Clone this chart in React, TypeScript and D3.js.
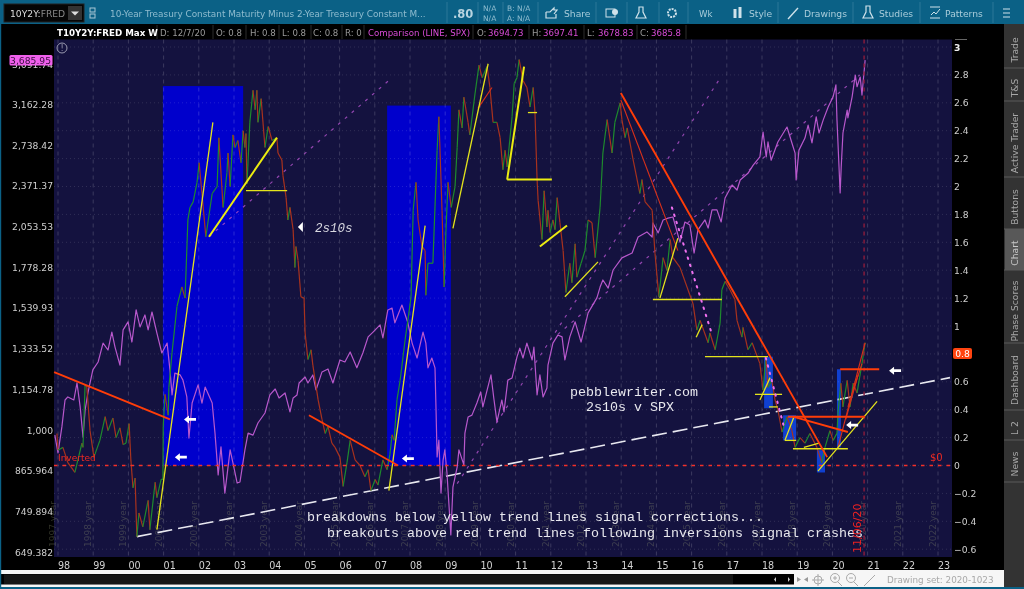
import React from "react";
import * as d3 from "d3";

const spxYears = [1997.91,1998,1998.11,1998.2,1998.28,1998.45,1998.54,1998.63,1998.71,1998.77,1998.85,1998.99,1999.14,1999.28,1999.42,1999.53,1999.62,1999.76,1999.85,1999.99,2000.1,2000.22,2000.33,2000.47,2000.56,2000.67,2000.81,2000.95,2001.1,2001.18,2001.24,2001.32,2001.47,2001.55,2001.66,2001.72,2001.81,2001.98,2002.09,2002.18,2002.38,2002.46,2002.55,2002.63,2002.74,2002.89,2002.97,2003.09,2003.17,2003.31,2003.4,2003.54,2003.68,2003.88,2004.02,2004.17,2004.28,2004.45,2004.59,2004.68,2004.79,2004.85,2005.02,2005.1,2005.24,2005.33,2005.5,2005.67,2005.81,2006.01,2006.15,2006.3,2006.49,2006.66,2006.81,2006.95,2007.15,2007.23,2007.37,2007.49,2007.57,2007.77,2007.94,2008.06,2008.2,2008.37,2008.45,2008.51,2008.62,2008.71,2008.74,2008.77,2008.82,2008.88,2008.94,2008.99,2009.05,2009.16,2009.22,2009.34,2009.39,2009.53,2009.56,2009.65,2009.76,2009.9,2010.01,2010.07,2010.3,2010.38,2010.47,2010.61,2010.67,2010.78,2010.9,2011.04,2011.12,2011.21,2011.32,2011.47,2011.52,2011.61,2011.69,2011.78,2011.89,2011.92,2012.06,2012.2,2012.32,2012.4,2012.54,2012.69,2012.86,2013.06,2013.31,2013.4,2013.48,2013.63,2013.77,2014.02,2014.31,2014.48,2014.73,2014.88,2014.9,2015.05,2015.19,2015.33,2015.47,2015.67,2015.81,2015.95,2016.07,2016.18,2016.38,2016.47,2016.58,2016.72,2016.84,2016.95,2017.15,2017.29,2017.38,2017.6,2017.75,2017.94,2018.03,2018.12,2018.17,2018.26,2018.45,2018.71,2018.85,2018.94,2018.97,2019.05,2019.22,2019.31,2019.42,2019.54,2019.62,2019.74,2019.88,2020.02,2020.1,2020.13,2020.22,2020.25,2020.3,2020.42,2020.44,2020.56,2020.65,2020.7,2020.79,2020.84,2020.93];
const spxValues = [982,922,1011,1112,1124,1112,1181,1085,976,1073,1140,1237,1272,1360,1327,1414,1341,1258,1425,1466,1365,1529,1440,1502,1425,1518,1409,1313,1360,1237,1132,1223,1215,1193,1124,972,1100,1173,1100,1164,1100,989,853,942,800,932,890,829,832,932,989,982,1025,1062,1132,1156,1120,1140,1066,1120,1132,1181,1206,1181,1215,1152,1228,1241,1181,1281,1272,1318,1246,1313,1390,1414,1450,1385,1529,1539,1461,1556,1461,1360,1290,1414,1360,1246,1290,1246,1073,909,965,800,899,932,859,690,817,877,932,884,989,1047,1054,1100,1144,1085,1215,1120,1029,1112,1066,1193,1202,1295,1336,1290,1360,1281,1341,1132,1215,1124,1160,1258,1360,1399,1390,1281,1390,1466,1365,1513,1596,1658,1700,1652,1761,1838,1870,1979,2015,1979,2080,2008,2102,2116,2124,1944,2087,2065,1870,2029,2102,2043,2178,2178,2087,2272,2379,2337,2421,2479,2552,2627,2869,2627,2770,2597,2770,2920,2760,2662,2421,2691,2808,2940,2760,3027,2859,2995,3135,3249,3390,2995,2313,2534,2859,3100,3017,3249,3510,3367,3485,3270,3700];

const yieldYears = [1997.97,1998,1998.14,1998.28,1998.48,1998.68,1998.71,1998.77,1998.82,1998.91,1999.02,1999.19,1999.34,1999.42,1999.56,1999.65,1999.76,1999.85,1999.93,2000.02,2000.07,2000.13,2000.19,2000.24,2000.3,2000.41,2000.56,2000.61,2000.76,2000.81,2000.93,2000.98,2000.99,2001.04,2001.13,2001.15,2001.24,2001.38,2001.52,2001.61,2001.69,2001.75,2001.84,2001.95,2002.01,2002.09,2002.2,2002.38,2002.52,2002.57,2002.69,2002.8,2002.83,2002.89,2002.97,2003.03,2003.11,2003.2,2003.26,2003.31,2003.34,2003.37,2003.45,2003.54,2003.6,2003.65,2003.68,2003.77,2003.88,2003.97,2004.08,2004.22,2004.25,2004.36,2004.39,2004.48,2004.53,2004.59,2004.68,2004.73,2004.76,2004.82,2004.9,2004.99,2005.02,2005.1,2005.19,2005.24,2005.39,2005.5,2005.59,2005.67,2005.78,2005.87,2006.01,2006.1,2006.21,2006.3,2006.44,2006.58,2006.72,2006.81,2006.89,2007.01,2007.09,2007.23,2007.35,2007.43,2007.49,2007.55,2007.63,2007.72,2007.86,2007.94,2008.03,2008.09,2008.17,2008.23,2008.34,2008.43,2008.45,2008.51,2008.65,2008.77,2008.82,2008.91,2008.97,2009.02,2009.08,2009.17,2009.28,2009.34,2009.39,2009.48,2009.53,2009.65,2009.7,2009.85,2009.96,2010.05,2010.19,2010.27,2010.36,2010.47,2010.56,2010.64,2010.7,2010.76,2010.9,2010.96,2011.04,2011.1,2011.21,2011.32,2011.41,2011.5,2011.55,2011.61,2011.64,2011.75,2011.81,2011.89,2011.92,2011.98,2012.06,2012.12,2012.18,2012.26,2012.35,2012.43,2012.54,2012.6,2012.69,2012.74,2012.86,2012.97,2013.06,2013.17,2013.26,2013.4,2013.48,2013.6,2013.74,2013.82,2013.97,2014.02,2014.11,2014.17,2014.34,2014.53,2014.59,2014.68,2014.88,2014.96,2015.07,2015.19,2015.3,2015.39,2015.47,2015.67,2016.04,2016.15,2016.24,2016.47,2016.52,2016.67,2016.81,2016.86,2016.95,2017.09,2017.23,2017.29,2017.43,2017.46,2017.6,2017.72,2017.94,2018.03,2018.11,2018.17,2018.28,2018.37,2018.45,2018.57,2018.71,2018.85,2018.94,2019.08,2019.22,2019.36,2019.56,2019.7,2019.79,2019.93,2020.02,2020.13,2020.16,2020.24,2020.3,2020.42,2020.5,2020.59,2020.7,2020.84,2020.93];
const yieldValues = [0.23,0.11,0.13,0.02,-0.05,0.16,0.13,0.58,0.56,0.25,0.06,0.18,0.35,0.25,0.34,0.2,0.27,0.15,0.16,0.3,0.04,-0.16,-0.09,-0.51,-0.34,-0.44,-0.25,-0.46,-0.12,-0.23,-0.1,-0.1,0.28,0.51,0.36,0.56,0.81,1.14,1.28,1.2,1.76,1.85,1.89,2.03,2.17,1.95,1.64,1.95,2,2.35,1.85,2.1,2.24,2,2.37,2.28,2.33,2.17,2.4,2.28,2.38,2.02,2.46,2.69,2.55,2.69,2.46,2.63,2.28,2.43,2.33,2.35,2.24,2.19,2.08,1.92,1.76,1.85,1.69,1.42,1.57,1.47,1.21,1.2,0.95,0.76,0.83,0.72,0.47,0.33,0.23,0.28,0.16,0.13,0.06,-0.15,0.02,0.18,0.04,0,-0.08,-0.03,-0.18,-0.1,-0.14,0.04,-0.03,0.08,0.22,0.18,0.47,0.61,0.9,1.04,1.21,1.83,2.03,1.76,1.57,1.54,1.22,1.45,1.45,2.26,2.5,1.83,1.28,1.67,2.03,1.85,2,2.28,2.55,2.42,2.64,2.46,2.37,2.67,2.87,2.78,2.86,2.71,2.46,2.46,2.35,2.12,2.26,2.14,2.5,2.74,2.78,2.91,2.76,2.71,2.57,2.71,2.53,2.05,1.9,1.62,1.97,1.71,1.83,1.67,1.76,1.69,1.92,1.74,1.54,1.24,1.45,1.31,1.59,1.35,1.45,1.54,1.76,1.74,1.49,1.85,2.24,2.48,2.24,2.46,2.6,2.48,2.35,2.42,2.19,1.95,2.05,1.89,1.83,1.52,1.21,1.49,1.4,1.62,1.49,1.42,1.16,0.97,1.04,0.88,0.95,0.83,1.02,1.26,1.32,1.26,1.19,1.04,0.92,0.99,0.83,0.88,0.73,0.54,0.78,0.56,0.61,0.47,0.4,0.24,0.35,0.25,0.13,0.2,0.16,0.23,0.13,0.02,0.13,0.25,0.18,0.23,0.38,0.59,0.42,0.61,0.42,0.59,0.52,0.73,0.88];

const leftTicks = [649.382,749.894,865.964,1000,1154.78,1333.52,1539.93,1778.28,2053.53,2371.37,2738.42,3162.28];
const leftLabels = ["649.382","749.894","865.964","1,000","1,154.78","1,333.52","1,539.93","1,778.28","2,053.53","2,371.37","2,738.42","3,162.28"];
const rightTicks = [-0.6,-0.4,-0.2,0,0.2,0.4,0.6,0.8,1,1.2,1.4,1.6,1.8,2,2.2,2.4,2.6,2.8,3];
const xYears = d3.range(1998, 2024);
const faintYears = d3.range(1997, 2023);

// [year from, year to, yield top, yield bottom]
const blueBlocks = [[2000.98,2003.26,2.72,0],[2007.35,2009.16,2.58,0]];
const smallBlocks = [[2018.06,2018.31,0.78,0.41],[2018.6,2018.97,0.36,0.18],[2019.56,2019.79,0.11,-0.05],[2020.13,2020.24,0.69,0.13]];

// [year, yield, year, yield]
const yellowLines = [[2000.81,-0.46,2002.4,2.46],[2003.34,1.97,2004.51,1.97],[2007.4,-0.18,2008.43,1.72],[2009.22,1.7,2010.22,2.88],[2011.35,2.53,2011.61,2.53],[2012.4,1.21,2013.34,1.46],[2015.1,1.2,2015.61,1.63],[2014.9,1.19,2016.86,1.19],[2016.13,0.92,2016.3,1.01],[2016.38,0.78,2018.17,0.78],[2017.94,0.47,2018.23,0.63],[2017.8,0.51,2018.57,0.51],[2018.2,0.42,2018.45,0.42],[2018.65,0.18,2018.91,0.35],[2018.65,0.18,2018.97,0.18],[2018.88,0.12,2020.44,0.12],[2019.19,0.13,2019.62,0.16],[2019.59,-0.04,2021.27,0.46]];
const yellowBold = [[2002.29,1.64,2004.22,2.35],[2010.76,2.05,2011.24,2.86],[2010.76,2.05,2012.03,2.05],[2011.69,1.57,2012.46,1.72]];
const orangeLines = [[1997.89,0.67,2001.18,0.33],[2005.13,0.36,2007.66,0],[2013.99,2.67,2019.85,0.06],[2018.74,0.35,2020.93,0.35],[2018.88,0.35,2020.44,0.24],[2020.22,0.69,2021.33,0.69]];
const thinRedLines = [[2013.99,2.62,2015.61,1.54],[2009.93,2.56,2010.33,2.71],[2020.16,0.13,2020.93,0.88],[2020.44,0.42,2020.84,0.73],[2020.38,0.33,2020.73,0.65]];
const pinkDots = [[2015.44,1.85,2016.58,0.94],[2018.11,0.77,2018.63,0.27]];
const purpleDashes = [[2002.29,1.64,2007.49,2.78],[2009.34,-0.13,2016.82,2.78],[2012.2,0.94,2020.78,2.8]];
const whiteDash = [2000.24,-0.51,2023.34,0.63];
const arrowPoints = [[2001.75,0.33],[2001.49,0.06],[2007.94,0.05],[2021.78,0.68],[2020.56,0.29]];

const sideTabs = ["Trade","T&S","Active Trader","Buttons","Chart","Phase Scores","Dashboard","L 2","News"];
const sideCentres = [50,88,143,207,253,311,380,428,464];
const sideSeps = [68,101,177,229,270,343,410,440,482];

const headerCells = [
  ["T10Y2Y:FRED Max W",57,"#fff",true],["D: 12/7/20",160,"#9a9a9a",false],["O: 0.8",216,"#9a9a9a",false],["H: 0.8",250,"#9a9a9a",false],
  ["L: 0.8",282,"#9a9a9a",false],["C: 0.8",313,"#9a9a9a",false],["R: 0",345,"#9a9a9a",false],["Comparison (LINE, SPX)",368,"#d84cd8",false],
];
const headerPrices = [["O:",477,"3694.73"],["H:",532,"3697.41"],["L:",587,"3678.83"],["C:",640,"3685.8"]];
const toolItems = [["Share",564],["Style",749],["Drawings",804],["Studies",879],["Patterns",945]];

const PL = 54, PR = 1004 - 52, PT = 39.5, PB = 557;
const x = d3.scaleLinear().domain([1998, 2023]).range([58, 938]);
const yR = d3.scaleLinear().domain([0, 3]).range([465.5, 47]);
const yL = d3.scaleLog().domain([1000, 3162.28]).range([430, 104.5]);
const MONO = "'Liberation Mono', monospace";
const SANS = "'DejaVu Sans', sans-serif";
const TOOL = "#0b6186";
const TXT = "#8fbccf";

const trend = (l: number[], i: React.Key, stroke: string, w: number, dash?: string, op = 1) => (
  <line key={i} x1={x(l[0])} y1={yR(l[1])} x2={x(l[2])} y2={yR(l[3])} stroke={stroke} strokeWidth={w} strokeDasharray={dash} opacity={op} strokeLinecap={dash === "1.5,6" ? "round" : "butt"} />
);

export default function App() {
  const spxPath = d3.line<number>().x((d) => x(spxYears[d])).y((d) => yL(spxValues[d]))(d3.range(spxYears.length)) as string;
  return (
    <svg width={1024} height={589} style={{ position: "fixed", left: 0, top: 0, display: "block", filter: "blur(0.3px)" }} fontFamily={SANS}>
      <rect width={1024} height={589} fill="#000" />
      {/* plot */}
      <rect x={PL} y={PT} width={PR - PL} height={PB - PT} fill="#14123f" />
      {blueBlocks.map((b, i) => (
        <rect key={i} x={x(b[0])} y={yR(b[2])} width={x(b[1]) - x(b[0])} height={yR(b[3]) - yR(b[2])} fill="#0000cc" />
      ))}
      {smallBlocks.map((b, i) => (
        <rect key={i} x={x(b[0])} y={yR(b[2])} width={x(b[1]) - x(b[0])} height={yR(b[3]) - yR(b[2])} fill="#1040d0" />
      ))}
      {/* grid */}
      {rightTicks.map((t) => (
        <line key={t} x1={PL} x2={PR} y1={yR(t)} y2={yR(t)} stroke="#ffffff" strokeOpacity={0.12} strokeDasharray="1,3" />
      ))}
      {xYears.map((t) => (
        <line key={t} x1={x(t)} x2={x(t)} y1={PT} y2={PB} stroke="#ffffff" strokeOpacity={0.17} strokeDasharray="4,4" />
      ))}
      {faintYears.map((t) => (
        <text key={t} transform={`translate(${x(t + 1) - 2},524) rotate(-90)`} textAnchor="middle" fontSize={9} fill="#8a9070" fillOpacity={0.35}>{`${t} year`}</text>
      ))}
      {/* channels */}
      {purpleDashes.map((l, i) => trend(l, "pd" + i, "#a94fc4", 1.2, "3,6", 0.85))}
      {/* white long dash */}
      {trend(whiteDash, "wd", "#e8e8f0", 1.6, "15,6")}
      {/* SPX */}
      <path d={spxPath} fill="none" stroke="#b858cc" strokeWidth={1.2} strokeLinejoin="round" />
      {/* T10Y2Y up/down segments */}
      {yieldYears.slice(1).map((yr, i) => {
        const up = yieldValues[i + 1] >= yieldValues[i];
        return (
          <line key={i} x1={x(yieldYears[i])} y1={yR(yieldValues[i])} x2={x(yr)} y2={yR(yieldValues[i + 1])} stroke={up ? "#1e8a2e" : "#a8321e"} strokeWidth={1.2} />
        );
      })}
      {/* zero line */}
      <line x1={PL} x2={PR} y1={yR(0)} y2={yR(0)} stroke="#f43028" strokeWidth={1.7} strokeDasharray="3.5,5" />
      {/* marker date */}
      <line x1={x(2020.9)} x2={x(2020.9)} y1={PT} y2={PB} stroke="#8c1c3c" strokeWidth={1.4} strokeDasharray="4,4" />
      {/* drawings */}
      {thinRedLines.map((l, i) => trend(l, "tr" + i, "#d8301a", 1.1))}
      {yellowLines.map((l, i) => trend(l, "yl" + i, "#e4e41c", 1.3))}
      {yellowBold.map((l, i) => trend(l, "yb" + i, "#ecec10", 2))}
      {orangeLines.map((l, i) => trend(l, "or" + i, "#ff3d08", 1.9))}
      {pinkDots.map((l, i) => trend(l, "pk" + i, "#f070f0", 2, "1.5,6"))}
      {arrowPoints.map((p, i) => {
        const ax = x(p[0]), ay = yR(p[1]);
        return <path key={i} d={`M${ax - 6},${ay} l5,-4 v2.6 h7 v2.8 h-7 v2.6 z`} fill="#fff" />;
      })}
      <path d={`M${x(2004.9) - 3},${yR(1.71)} l5,-5 v10 z`} fill="#fff" />
      {/* annotations */}
      <text x={315} y={232} fontFamily={MONO} fontStyle="italic" fontSize={12.5} fill="#d8d8e0">2s10s</text>
      <text x={570} y={396} fontFamily={MONO} fontSize={13.33} fill="#e8e8ee">pebblewriter.com</text>
      <text x={586} y={411} fontFamily={MONO} fontSize={13.33} fill="#e8e8ee">2s10s v SPX</text>
      <text x={307} y={521} fontFamily={MONO} fontSize={13.33} fill="#e8e8ee">breakdowns below yellow trend lines signal corrections...</text>
      <text x={327} y={537} fontFamily={MONO} fontSize={13.33} fill="#e8e8ee">breakouts above red trend lines following inversions signal crashes</text>
      <text x={58} y={461} fontSize={9} fill="#ee2a22">Inverted</text>
      <text x={930} y={461} fontSize={10} fill="#ee2a22">$0</text>
      <text transform={`translate(${x(2020.9) - 3},553) rotate(-90)`} fontSize={11} fill="#ee2222">11/06/20</text>
      <circle cx={62} cy={48} r={5} fill="none" stroke="#9a9ab0" strokeWidth={1} />
      <text x={62} y={51} textAnchor="middle" fontSize={8} fill="#9a9ab0">!</text>
      {/* left axis */}
      {leftTicks.map((t, i) => (
        <text key={t} x={53} y={yL(t) + 3.5} textAnchor="end" fontSize={9.2} fill="#cfcfcf">{leftLabels[i]}</text>
      ))}
      <text x={53} y={68} textAnchor="end" fontSize={9.2} fill="#cfcfcf">3,691.74</text>
      <rect x={9.5} y={55} width={43} height={10.5} rx={1.5} fill="#f060ec" />
      <text x={51} y={63.8} textAnchor="end" fontSize={9.2} fill="#3a1040">3,685.95</text>
      {/* right axis */}
      {rightTicks.map((t) => (
        <text key={t} x={954} y={yR(t) + 3.5} fontSize={9.2} fill={t === 3 ? "#eee" : "#cfcfcf"} fontWeight={t === 3 ? 700 : 400}>{t < 0 ? `\u2212${Math.abs(t)}` : `${t}`}</text>
      ))}
      <rect x={953} y={348} width={19} height={11} rx={2} fill="#ff4410" />
      <text x={962.5} y={357} textAnchor="middle" fontSize={9.2} fill="#fff">0.8</text>
      <path d="M955,30 h12 M955,39 h12 M956,38 l5,-5 l2,2 l4,-5" fill="none" stroke="#ccc" strokeWidth={1} />
      {/* x axis */}
      {xYears.map((t) => (
        <text key={t} x={x(t)} y={568.5} fontSize={9.6} fill="#d2d2d2">{String(t % 100).padStart(2, "0")}</text>
      ))}
      {/* header row */}
      <rect x={1} y={24} width={1003} height={15} fill="#000" />
      {[157,213,246,279,311,342,364,473,529,584,637,686].map((hx) => (
        <line key={hx} x1={hx} x2={hx} y1={25} y2={39} stroke="#2c2c2c" />
      ))}
      {headerCells.map((c) => (
        <text key={c[0] as string} x={c[1] as number} y={36} fontSize={c[3] ? 8.7 : 8.6} fill={c[2] as string} fontWeight={c[3] ? 700 : 400}>{c[0]}</text>
      ))}
      {headerPrices.map((c) => (
        <g key={c[0] as string}>
          <text x={c[1] as number} y={36} fontSize={8.6} fill="#9a9a9a">{c[0]}</text>
          <text x={(c[1] as number) + 11} y={36} fontSize={8.6} fill="#d84cd8">{c[2]}</text>
        </g>
      ))}
      {/* toolbar */}
      <rect width={1024} height={24} fill={TOOL} />
      <rect x={4} y={4} width={80} height={18} fill="#050505" stroke="#222" />
      <text x={10} y={16.5} fontSize={9.2}><tspan fill="#ddd">10Y2Y:</tspan><tspan fill="#888">FRED</tspan></text>
      <rect x={68} y={6} width={14} height={14} fill="#333" />
      <path d="M71,11.5 h8 l-4,4 z" fill="#ddd" />
      <rect x={90} y={8} width={5} height={4} fill="none" stroke="#aac8d6" />
      <rect x={90} y={14} width={5} height={4} fill="none" stroke="#aac8d6" />
      <text x={110} y={17} fontSize={8.9} fill={TXT}>10-Year Treasury Constant Maturity Minus 2-Year Treasury Constant M...</text>
      <line x1={447} x2={447} y1={2} y2={23} stroke="#2d7898" />
      <text x={453} y={18} fontSize={11.5} fontWeight={700} fill="#b8d4e0">.80</text>
      <line x1={478} x2={478} y1={2} y2={23} stroke="#2d7898" />
      <text x={483} y={11} fontSize={7.5} fill={TXT}>N/A</text>
      <text x={483} y={21} fontSize={7.5} fill={TXT}>N/A</text>
      <line x1={503} x2={503} y1={2} y2={23} stroke="#2d7898" />
      <text x={507} y={11} fontSize={7.5} fill={TXT}>B: N/A</text>
      <text x={507} y={21} fontSize={7.5} fill={TXT}>A: N/A</text>
      {[538,596,627,659,688,778,853,920,993].map((sx) => (
        <line key={sx} x1={sx} x2={sx} y1={2} y2={23} stroke="#2d7898" />
      ))}
      {toolItems.map((t) => (
        <text key={t[0] as string} x={t[1] as number} y={17} fontSize={9.2} fill="#a9ccda">{t[0]}</text>
      ))}
      <text x={699} y={17} fontSize={8.6} fill="#a9ccda">Wk</text>
      {/* toolbar glyphs */}
      <path d="M546,12 h4 l4,-4 v2 h3 l-3,4 M546,12 v6 h10 v-4" fill="none" stroke="#cfe2ea" strokeWidth={1.2} />
      <rect x={606} y={9} width={9} height={8} fill="none" stroke="#cfe2ea" />
      <circle cx={615} cy={12} r={3} fill="#cfe2ea" />
      <path d="M639,7 h4 v5 l3,6 h-10 l3,-6 z" fill="none" stroke="#cfe2ea" strokeWidth={1.2} />
      <circle cx={672} cy={13} r={4} fill="none" stroke="#cfe2ea" strokeWidth={2} strokeDasharray="2,1" />
      <path d="M735,9 v9 M740,7 v11" stroke="#cfe2ea" strokeWidth={3} />
      <path d="M788,19 l10,-11" stroke="#cfe2ea" strokeWidth={1.4} />
      <path d="M866,6 h4 v6 l3,6 h-10 l3,-6 z" fill="none" stroke="#cfe2ea" strokeWidth={1.2} />
      <path d="M930,7 h10 M930,18 h10 M931,15 l3,-3 l2,2 l4,-5" fill="none" stroke="#cfe2ea" />
      <path d="M1003,9 h7 M1003,13 h7 M1003,17 h7" stroke="#cfe2ea" strokeWidth={1.2} />
      {/* side tabs */}
      <rect x={1004} y={24} width={20} height={565} fill="#333" />
      <rect x={1005} y={229} width={19} height={41} fill="#585858" />
      {sideSeps.map((s) => (
        <line key={s} x1={1004} x2={1024} y1={s} y2={s} stroke="#5a5a5a" />
      ))}
      {sideTabs.map((t, i) => (
        <text key={t} transform={`translate(1017.5,${sideCentres[i]}) rotate(-90)`} textAnchor="middle" fontSize={9.2} fill={t === "Chart" ? "#c8c8c8" : "#a8a8a8"}>{t}</text>
      ))}
      {/* bottom strip */}
      <rect x={1} y={570} width={1003} height={17} fill="#f6f6f6" />
      <rect x={1} y={574} width={793} height={10.5} fill="#000" />
      <rect x={4} y={574.5} width={729} height={9.5} fill="#151515" />
      <path d="M776,577 v5 l-2,-2.5 z M788,577 v5 l2,-2.5 z" fill="#ccc" />
      <path d="M797,577 l4,2.5 l-4,2.5 z M808,577 l-4,2.5 l4,2.5 z" fill="#999" />
      <circle cx={818} cy={580} r={4} fill="none" stroke="#aaa" />
      <path d="M818,574 v12 M812,580 h12" stroke="#aaa" />
      <circle cx={835} cy={578} r={4.5} fill="none" stroke="#aaa" />
      <path d="M838,582 l4,4 M833,578 h4 M835,576 v4" stroke="#aaa" />
      <circle cx={851} cy={578} r={4.5} fill="none" stroke="#aaa" />
      <path d="M854,582 l4,4 M849,578 h4" stroke="#aaa" />
      <path d="M864,586 l11,-11" stroke="#aaa" />
      <text x={887} y={583} fontSize={8.8} fill="#a8a8a8">Drawing set: 2020-1023</text>
      {/* frame */}
      <rect x={0} y={587} width={1024} height={2} fill={TOOL} />
      <rect x={0} y={0} width={1.2} height={589} fill={TOOL} />
    </svg>
  );
}
